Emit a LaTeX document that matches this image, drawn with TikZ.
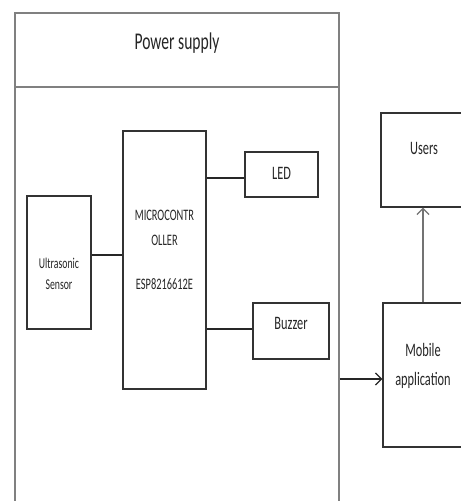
\documentclass[tikz,border=0pt]{standalone}
\usepackage{fontspec}
\setmainfont{Carlito}[FakeStretch=0.65]
\usetikzlibrary{arrows.meta}

\begin{document}
\begin{tikzpicture}[
  x=1bp, y=-1bp, >={Straight Barb[length=6bp,width=12bp]},
  font=\fontsize{19bp}{29bp}\selectfont,
  every label/.style={text=black!85,align=center},
  frame/.style={rectangle,draw=black!50,line width=1.6bp,inner sep=0pt},
  blk/.style={rectangle,draw=black!80,line width=1.3bp,fill=white,inner sep=0pt},
  wire/.style={draw=black!85,line width=1.3bp},
  arr/.style={->,draw=black!85,line width=1.3bp}]
\useasboundingbox (0,0) rectangle (461,501);
\clip (0,0) rectangle (461,501);
\node[frame, minimum width=324bp, minimum height=74bp, label={[font=\fontsize{24bp}{28bp}\selectfont,yshift=7bp]center:Power supply}] (psu) at (177,50) {};
\node[frame, minimum width=324bp, minimum height=443bp] (board) at (177,308.5) {};
\node[blk, minimum width=64bp, minimum height=133bp, label={[font=\fontsize{15bp}{21bp}\selectfont,yshift=-11bp]center:Ultrasonic\\Sensor}] (sensor) at (59,262.5) {};
\node[blk, minimum width=83bp, minimum height=258bp, label={[font=\fontsize{16bp}{25bp}\selectfont,yshift=10bp]center:MICROCONTR\\OLLER\\[19bp]ESP8216612E}] (mcu) at (164.5,260) {};
\node[blk, minimum width=73bp, minimum height=45bp, label={[yshift=1.5bp]center:LED}] (led) at (281.5,174.5) {};
\node[blk, minimum width=76bp, minimum height=56bp, label={[yshift=7.5bp]center:Buzzer}] (buzzer) at (291,331) {};
\node[blk, minimum width=86bp, minimum height=94bp, label={[yshift=11.5bp]center:Users}] (users) at (424,160) {};
\node[blk, minimum width=80bp, minimum height=144bp, label={[yshift=9bp]center:Mobile\\application}] (app) at (423,375) {};
\draw[wire] ([yshift=7.5bp]sensor.east) -- ([yshift=7.5bp]sensor.east -| mcu.west);
\draw[wire] ([yshift=-3.5bp]led.west) -- ([yshift=-3.5bp]led.west -| mcu.east);
\draw[wire] ([yshift=2bp]buzzer.west) -- ([yshift=2bp]buzzer.west -| mcu.east);
\draw[arr] ([yshift=-4bp]app.west -| board.east) -- ([yshift=-4bp]app.west);
\draw[arr,draw=black!55] (app.north) -- (app.north |- users.south);
\end{tikzpicture}
\end{document}
